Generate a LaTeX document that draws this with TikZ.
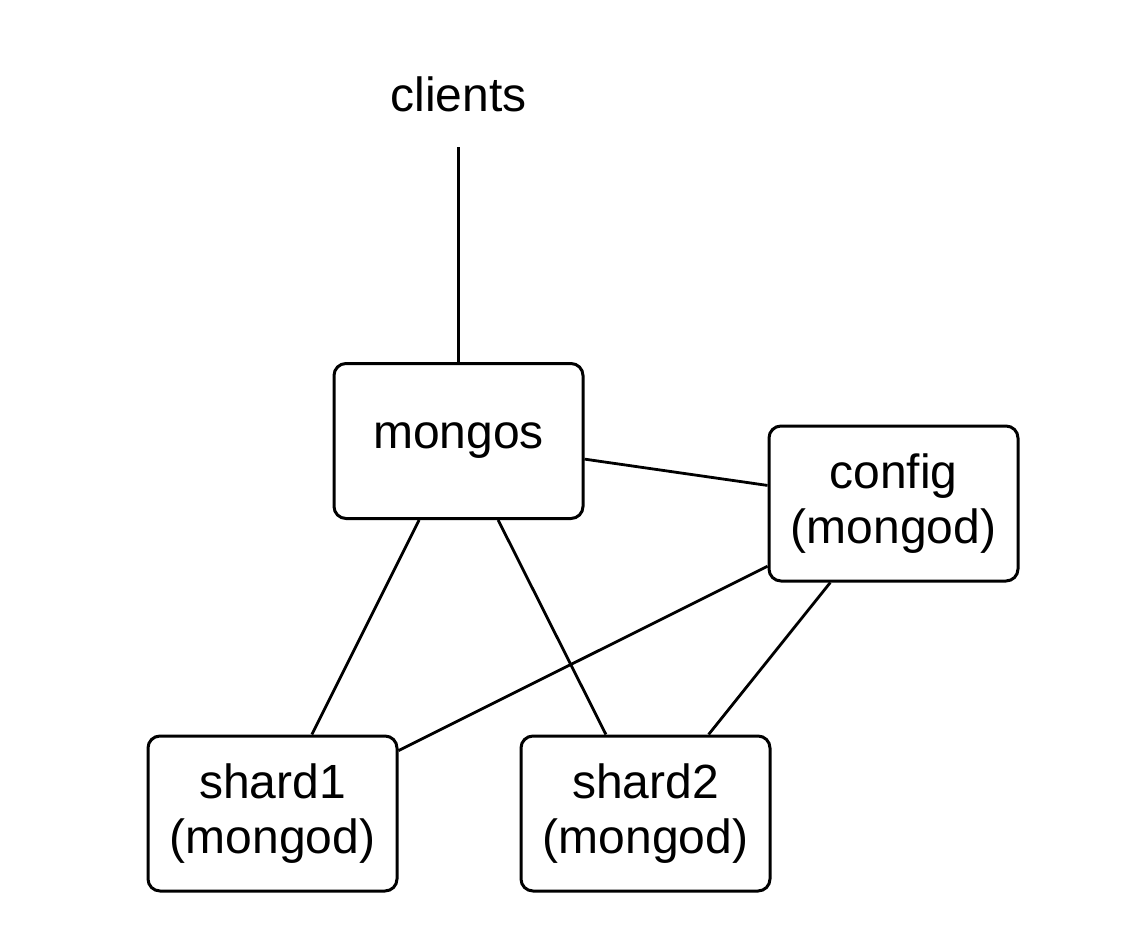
\documentclass[tikz,border=0pt]{standalone}
\usepackage{fontspec}
\setmainfont{Liberation Sans}
\begin{document}
\begin{tikzpicture}[x=0.5pt,y=-0.5pt,
  box/.style={draw, line width=1.5pt, rounded corners=6pt, minimum width=124.5pt, minimum height=77.5pt, align=center, inner sep=0pt, font=\fontsize{24}{27.5}\selectfont},
  conn/.style={line width=1.4pt},
  lbl/.style={font=\fontsize{24}{27.5}\selectfont, inner sep=0pt}]
\useasboundingbox (0,0) rectangle (1124,944);
\node[box] (mongos) at (458.5,441) {mongos};
\node[box] (config) at (893.5,503.5) {config\\(mongod)};
\node[box] (shard1) at (272.5,813.5) {shard1\\(mongod)};
\node[box] (shard2) at (645.5,813.5) {shard2\\(mongod)};
\node[lbl] (clients) at (458.5,94) {clients};
\coordinate (ctop) at (458.5,147);
\draw[conn] (ctop) -- (mongos.north);
\draw[conn] (mongos) -- (config);
\draw[conn] (mongos) -- (shard1);
\draw[conn] (mongos) -- (shard2);
\draw[conn] (config) -- (shard1);
\draw[conn] (config) -- (shard2);
\end{tikzpicture}
\end{document}
